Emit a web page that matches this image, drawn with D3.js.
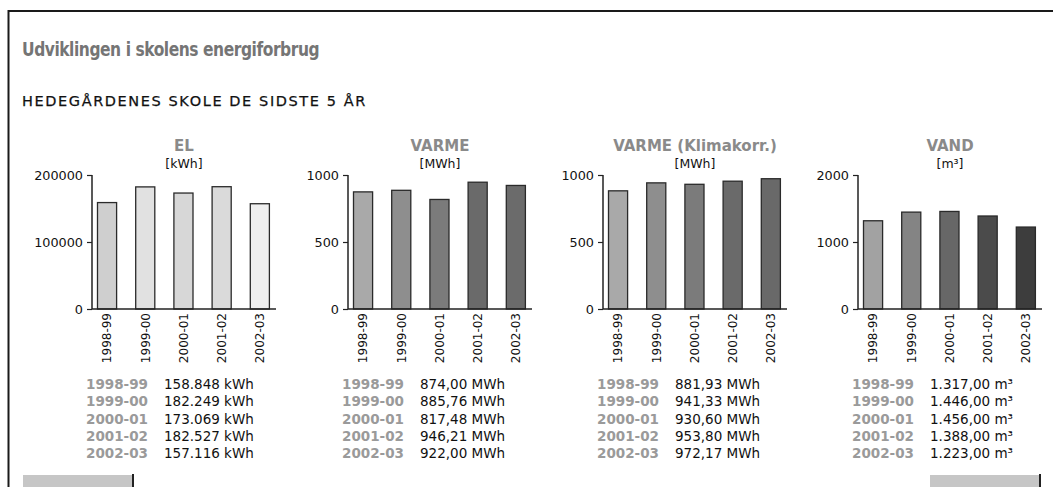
<!DOCTYPE html>
<html>
<head>
<meta charset="utf-8">
<script src="https://cdn.jsdelivr.net/npm/d3@7"></script>
<style>
  html, body { margin: 0; padding: 0; background: #fff; }
  svg { display: block; }
  text { font-family: "DejaVu Sans", Verdana, sans-serif; }
</style>
</head>
<body>
<svg id="chart" width="1053" height="487"></svg>
<script>
// ---- Data ----
const pageTitle = "Udviklingen i skolens energiforbrug";
const pageSubtitle = "HEDEGÅRDENES SKOLE DE SIDSTE 5 ÅR";
const periods = ["1998-99", "1999-00", "2000-01", "2001-02", "2002-03"];

const panelTitles = ["EL", "VARME", "VARME (Klimakorr.)", "VAND"];
const panelUnits = ["kWh", "MWh", "MWh", "m³"];

const elValues = [158848, 182249, 173069, 182527, 157116];
const varmeValues = [874.00, 885.76, 817.48, 946.21, 922.00];
const varmeKlimaValues = [881.93, 941.33, 930.60, 953.80, 972.17];
const vandValues = [1317, 1446, 1456, 1388, 1223];

const elTicks = [0, 100000, 200000];
const varmeTicks = [0, 500, 1000];
const varmeKlimaTicks = [0, 500, 1000];
const vandTicks = [0, 1000, 2000];

const elColors = ["#cfcfcf", "#e1e1e1", "#d7d7d7", "#dadada", "#efefef"];
const varmeColors = ["#a9a9a9", "#8e8e8e", "#7b7b7b", "#6a6a6a", "#6b6b6b"];
const varmeKlimaColors = ["#a9a9a9", "#8e8e8e", "#7b7b7b", "#6a6a6a", "#696969"];
const vandColors = ["#a2a2a2", "#848484", "#676767", "#4b4b4b", "#3d3d3d"];

// ---- Formatting (Danish) ----
const dk = d3.formatLocale({ decimal: ",", thousands: ".", grouping: [3], currency: ["", " kr"] });
const fmtInt = dk.format(",.0f");
const fmtDec = dk.format(",.2f");

const panels = [
  { title: panelTitles[0], unit: panelUnits[0], values: elValues, ticks: elTicks, colors: elColors, fmt: fmtInt },
  { title: panelTitles[1], unit: panelUnits[1], values: varmeValues, ticks: varmeTicks, colors: varmeColors, fmt: fmtDec },
  { title: panelTitles[2], unit: panelUnits[2], values: varmeKlimaValues, ticks: varmeKlimaTicks, colors: varmeKlimaColors, fmt: fmtDec },
  { title: panelTitles[3], unit: panelUnits[3], values: vandValues, ticks: vandTicks, colors: vandColors, fmt: fmtDec }
];

// ---- Layout ----
const svg = d3.select("#chart");
const axisXs = [92, 348, 603, 858];
const plotTop = 175, plotBottom = 309;
const axisLen = 184;

// outer frame
svg.append("path")
  .attr("d", "M8.5,487 V11 H1053")
  .attr("fill", "none").attr("stroke", "#1a1a1a").attr("stroke-width", 2);

svg.append("text")
  .attr("transform", "translate(22,56) scale(1,1.2)")
  .attr("font-size", 15.5).attr("font-weight", "bold").attr("fill", "#757575")
  .attr("letter-spacing", -0.45)
  .text(pageTitle);

svg.append("text")
  .attr("x", 22).attr("y", 106)
  .attr("font-size", 14.5).attr("fill", "#111")
  .attr("letter-spacing", 1.6)
  .attr("stroke", "#111").attr("stroke-width", 0.25)
  .text(pageSubtitle);

panels.forEach((p, i) => {
  const ax = axisXs[i];
  const g = svg.append("g");

  const y = d3.scaleLinear()
    .domain([0, p.ticks[p.ticks.length - 1]])
    .range([plotBottom, plotTop]);

  const x = d3.scaleBand()
    .domain(periods)
    .range([ax + 5.5, ax + 5.5 + 4.5 * 38.2])
    .paddingInner(0.5).paddingOuter(0).align(0);

  // bars
  g.selectAll("rect.bar")
    .data(p.values)
    .join("rect")
    .attr("class", "bar")
    .attr("x", (d, j) => x(periods[j]))
    .attr("y", d => y(d))
    .attr("width", x.bandwidth())
    .attr("height", d => plotBottom - y(d))
    .attr("fill", (d, j) => p.colors[j])
    .attr("stroke", "#2a2a2a").attr("stroke-width", 1.3);

  // y axis
  const yAxis = d3.axisLeft(y).tickValues(p.ticks).tickSize(5).tickPadding(4).tickFormat(d3.format("d"));
  const ya = g.append("g").attr("transform", `translate(${ax},0)`).call(yAxis);
  ya.select(".domain").remove();
  ya.selectAll(".tick line").attr("stroke", "#222").attr("stroke-width", 1.2);
  ya.selectAll(".tick text").attr("font-size", 12.8).attr("fill", "#111")
    .attr("font-family", "DejaVu Sans, sans-serif");
  g.append("line")
    .attr("x1", ax).attr("x2", ax).attr("y1", plotTop).attr("y2", plotBottom)
    .attr("stroke", "#222").attr("stroke-width", 1.5);
  g.append("line")
    .attr("x1", ax).attr("x2", ax + axisLen).attr("y1", plotBottom).attr("y2", plotBottom)
    .attr("stroke", "#222").attr("stroke-width", 1.5);

  // x labels (rotated)
  g.selectAll("text.xl")
    .data(periods)
    .join("text")
    .attr("class", "xl")
    .attr("transform", d => `translate(${x(d) + x.bandwidth() / 2},${plotBottom + 4}) rotate(-90)`)
    .attr("text-anchor", "end").attr("dy", "0.36em")
    .attr("font-size", 12).attr("fill", "#111")
    .text(d => d);

  // panel title + unit
  const cx = ax + 92;
  g.append("text")
    .attr("x", cx).attr("y", 151).attr("text-anchor", "middle")
    .attr("font-size", 15).attr("font-weight", "bold").attr("fill", "#8a8a8a")
    .text(p.title);
  g.append("text")
    .attr("x", cx).attr("y", 168).attr("text-anchor", "middle")
    .attr("font-size", 12.5).attr("fill", "#111")
    .attr("font-family", "Liberation Sans, Arial, sans-serif")
    .text(`[${p.unit}]`);

  // table
  periods.forEach((per, j) => {
    const by = 389 + j * 17.3;
    g.append("text")
      .attr("x", ax - 6).attr("y", by)
      .attr("font-size", 13.5).attr("font-weight", "bold").attr("fill", "#9a9a9a")
      .text(per);
    g.append("text")
      .attr("x", ax + 72).attr("y", by)
      .attr("font-size", 13.5).attr("fill", "#111")
      .text(`${p.fmt(p.values[j])} ${p.unit}`);
  });
});

// bottom buttons
[[23, 133], [930, 1040]].forEach(([a, b]) => {
  svg.append("rect").attr("x", a).attr("y", 475).attr("width", b - a).attr("height", 12).attr("fill", "#c6c6c6");
  svg.append("line").attr("x1", b).attr("x2", b).attr("y1", 474).attr("y2", 487)
    .attr("stroke", "#222").attr("stroke-width", 2);
});
</script>
</body>
</html>
